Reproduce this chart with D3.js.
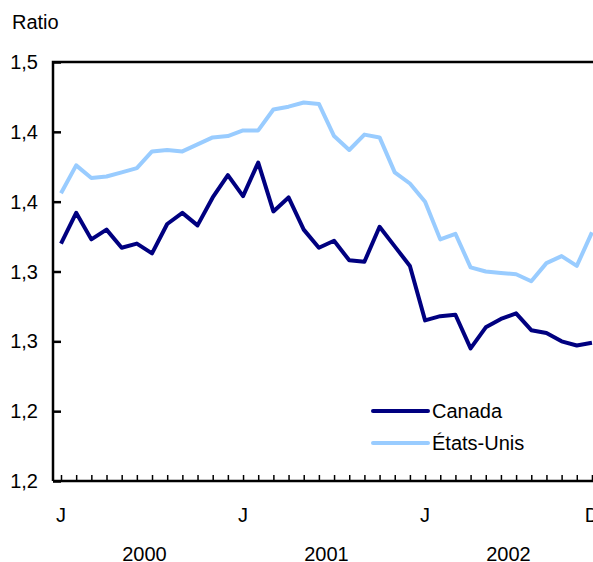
<!DOCTYPE html>
<html lang="fr">
<head>
    <meta charset="UTF-8">
    <title>Ratio</title>
    <style>
        body { margin: 0; background-color: #fff }
        svg { display: block }
        text { font-family: "Liberation Sans", Arial, sans-serif; font-size: 20px; fill: #000 }
    </style>
</head>
<body>
<script src="https://cdnjs.cloudflare.com/ajax/libs/d3/7.8.5/d3.min.js"></script>
<script>
    const width = 593;
    const height = 562;

    // monthly values, Jan 2000 .. Dec 2002
    const canada = [1.370, 1.392, 1.373, 1.380, 1.367, 1.370, 1.363, 1.384, 1.392, 1.383, 1.403, 1.419,
                    1.404, 1.428, 1.393, 1.403, 1.380, 1.367, 1.372, 1.358, 1.357, 1.382, 1.368, 1.354,
                    1.315, 1.318, 1.319, 1.295, 1.310, 1.316, 1.320, 1.308, 1.306, 1.300, 1.297, 1.299];
    const etatsUnis = [1.406, 1.426, 1.417, 1.418, 1.421, 1.424, 1.436, 1.437, 1.436, 1.441, 1.446, 1.447,
                       1.451, 1.451, 1.466, 1.468, 1.471, 1.470, 1.447, 1.437, 1.448, 1.446, 1.421, 1.413,
                       1.400, 1.373, 1.377, 1.353, 1.350, 1.349, 1.348, 1.343, 1.356, 1.361, 1.354, 1.378];
    const seriesNames = ["Canada", "États-Unis"];
    const seriesColors = ["#000080", "#99ccff"];

    const yTicks = [1.20, 1.25, 1.30, 1.35, 1.40, 1.45, 1.50];
    const yTickLabels = ["1,2", "1,2", "1,3", "1,3", "1,4", "1,4", "1,5"];
    const xLabelIdx = [0, 12, 24, 35];
    const xLabelText = ["J", "J", "J", "D"];
    const years = ["2000", "2001", "2002"];

    const plotLeft = 53, plotTop = 62, plotBottom = 481;
    const x0 = 61, step = 15.17;

    const x = d3.scaleLinear().domain([0, 35]).range([x0, x0 + 35 * step]);
    const y = d3.scaleLinear().domain([1.2, 1.5]).range([plotBottom, plotTop]);

    const svg = d3.select("body").append("svg")
        .attr("width", width)
        .attr("height", height);

    svg.append("text").attr("x", 12).attr("y", 29).text("Ratio");

    // frame: left + top lines
    svg.append("path")
        .attr("d", `M${plotLeft},${plotBottom}V${plotTop}H${width + 20}`)
        .attr("fill", "none").attr("stroke", "#000").attr("stroke-width", 2.5);

    // y axis (inner ticks)
    const yAxis = d3.axisRight(y)
        .tickValues(yTicks)
        .tickSize(8)
        .tickFormat("");
    const gy = svg.append("g").attr("transform", `translate(${plotLeft},0)`).call(yAxis);
    gy.select(".domain").remove();
    gy.selectAll("line").attr("stroke-width", 2.5);
    svg.selectAll(".ylab").data(yTicks).enter().append("text")
        .attr("class", "ylab")
        .attr("x", 38).attr("y", d => y(d))
        .attr("dy", "0.35em")
        .attr("text-anchor", "end")
        .text((d, i) => yTickLabels[i]);

    // x axis (month ticks pointing up)
    const xAxis = d3.axisTop(x)
        .tickValues(d3.range(0, 36))
        .tickSize(6)
        .tickFormat("");
    const gx = svg.append("g").attr("transform", `translate(0,${plotBottom})`).call(xAxis);
    gx.select(".domain").remove();
    gx.selectAll("line").attr("stroke-width", 1.5);
    svg.append("line")
        .attr("x1", plotLeft).attr("x2", width + 20)
        .attr("y1", plotBottom).attr("y2", plotBottom)
        .attr("stroke", "#000").attr("stroke-width", 2.5);

    svg.selectAll(".xlab").data(xLabelIdx).enter().append("text")
        .attr("class", "xlab")
        .attr("x", d => x(d)).attr("y", 522)
        .attr("text-anchor", "middle")
        .text((d, i) => xLabelText[i]);

    svg.selectAll(".year").data(years).enter().append("text")
        .attr("class", "year")
        .attr("x", (d, i) => (x(i * 12) + x(i * 12 + 11)) / 2).attr("y", 561)
        .attr("text-anchor", "middle")
        .text(d => d);

    // lines
    const line = d3.line().x((d, i) => x(i)).y(d => y(d));
    [etatsUnis, canada].forEach((s, k) => {
        svg.append("path")
            .datum(s)
            .attr("d", line)
            .attr("fill", "none")
            .attr("stroke", seriesColors[1 - k])
            .attr("stroke-width", 4)
            .attr("stroke-linejoin", "round");
    });

    // legend
    const legend = svg.append("g");
    seriesNames.forEach((name, i) => {
        const ly = 411 + i * 32;
        legend.append("line")
            .attr("x1", 373).attr("x2", 428)
            .attr("y1", ly).attr("y2", ly)
            .attr("stroke", seriesColors[i]).attr("stroke-width", 4)
            .attr("stroke-linecap", "round");
        legend.append("text")
            .attr("x", 432).attr("y", ly).attr("dy", "0.35em")
            .text(name);
    });
</script>
</body>
</html>
